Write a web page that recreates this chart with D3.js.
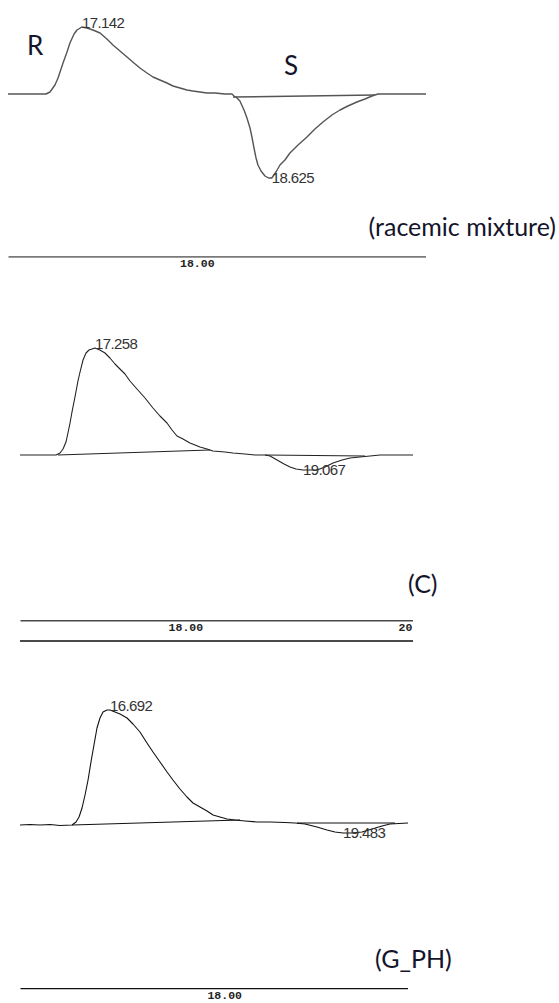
<!DOCTYPE html>
<html>
<head>
<meta charset="utf-8">
<script src="https://cdn.jsdelivr.net/npm/d3@7"></script>
<style>
  html, body { margin: 0; padding: 0; background: #fff; }
  svg { display: block; }
</style>
</head>
<body>
<script>
// Chiral HPLC traces: retention time (min) vs. detector signal (mV)

// racemic mixture: R enantiomer positive, S enantiomer negative (CD-type detector)
const traceRacemic = [
  [16.564, 0], [16.736, 0], [16.861, 0], [16.892, 3], [16.931, 13.5], [16.955, 24],
  [16.994, 46.5], [17.025, 63], [17.048, 76.5], [17.080, 90], [17.103, 96],
  [17.142, 100.5], [17.181, 99], [17.228, 96], [17.283, 91.5], [17.337, 82.5],
  [17.384, 73.5], [17.439, 64.5], [17.494, 55.5], [17.548, 46.5], [17.595, 39],
  [17.650, 31.5], [17.697, 25.5], [17.751, 21], [17.806, 16.5], [17.853, 12],
  [17.908, 9], [17.962, 6], [18.009, 4.5], [18.064, 3], [18.119, 1.5], [18.181, 1.5],
  [18.259, 0], [18.314, 0], [18.330, -3], [18.353, -6], [18.376, -10.5], [18.408, -24],
  [18.431, -36], [18.455, -51], [18.470, -64.5], [18.486, -81], [18.502, -96],
  [18.517, -106.5], [18.541, -115.5], [18.572, -123], [18.600, -126], [18.625, -126],
  [18.658, -117], [18.689, -106.5], [18.728, -99], [18.767, -88.5], [18.830, -76.5],
  [18.900, -64.5], [18.962, -52.5], [19.025, -42], [19.095, -31.5], [19.158, -24],
  [19.220, -18], [19.290, -12], [19.353, -7.5], [19.408, -3], [19.455, 0],
  [19.627, 0], [19.830, 0]
];
const peaksRacemic = [17.142, 18.625];
const baselinesRacemic = [[[18.322, -4.5], [19.431, -1.5]]];
const ticksRacemic = [18];

// sample C
const traceC = [
  [16.606, 0], [16.780, 0], [16.919, 0], [16.954, 3], [16.980, 9], [17.006, 19.5],
  [17.023, 33], [17.041, 48], [17.058, 64.5], [17.084, 87], [17.110, 111],
  [17.128, 124.5], [17.154, 142.5], [17.180, 153], [17.206, 157.5], [17.258, 160.5],
  [17.301, 157.5], [17.345, 153], [17.388, 145.5], [17.432, 136.5], [17.475, 129],
  [17.519, 121.5], [17.562, 111], [17.623, 99], [17.693, 85.5], [17.762, 70.5],
  [17.823, 58.5], [17.884, 48], [17.928, 37.5], [17.971, 28.5], [18.023, 24],
  [18.084, 18], [18.171, 12], [18.232, 9], [18.284, 6], [18.388, 4.5], [18.458, 3],
  [18.562, 1.5], [18.649, 0], [18.736, 0], [18.780, -1.5], [18.841, -7.5],
  [18.902, -13.5], [18.954, -18], [19.006, -21], [19.067, -22.5], [19.128, -22.5],
  [19.188, -22.5], [19.258, -18], [19.328, -12], [19.406, -7.5], [19.476, -4.5],
  [19.562, -3], [19.649, -1.5], [19.736, 0], [20.023, 0]
];
const peaksC = [17.258, 19.067];
const baselinesC = [[[16.936, 0], [18.258, 7.5]], [[18.736, 0], [19.606, -1.5]]];
const ticksC = [18, 20];

// sample G_PH
const traceGPH = [
  [15.614, 0], [15.734, 0.75], [15.854, 0], [15.973, 0.75], [16.093, -0.75],
  [16.237, 0], [16.285, 4.5], [16.321, 12], [16.357, 25.5], [16.393, 45],
  [16.429, 67.5], [16.464, 94.5], [16.500, 120], [16.536, 145.5], [16.572, 160.5],
  [16.608, 169.5], [16.656, 172.5], [16.692, 172.5], [16.752, 169.5], [16.812, 166.5],
  [16.896, 160.5], [16.967, 151.5], [17.051, 139.5], [17.135, 123], [17.207, 109.5],
  [17.291, 94.5], [17.375, 79.5], [17.446, 67.5], [17.530, 54], [17.614, 42],
  [17.686, 33], [17.770, 27], [17.854, 21], [17.926, 15], [18.009, 12], [18.093, 9],
  [18.189, 7.5], [18.309, 6], [18.452, 4.5], [18.608, 4.5], [18.788, 3.75],
  [18.908, 3], [19.027, 1.5], [19.171, -3], [19.291, -7.5], [19.387, -10.5],
  [19.483, -12], [19.590, -12], [19.710, -10.5], [19.830, -6], [19.950, -1.5],
  [20.045, 1.5], [20.261, 3]
];
const peaksGPH = [16.692, 19.483];
const baselinesGPH = [[[16.237, 0], [18.249, 7.5]], [[18.931, 3], [20.105, 3]]];
const ticksGPH = [18];

const captions = ["(racemic mixture)", "(C)", "(G_PH)"];

// ---- layout ----
const W = 559, H = 1003;
const svg = d3.select("body").append("svg").attr("width", W).attr("height", H);

const panels = [
  { trace: traceRacemic, peaks: peaksRacemic, baselines: baselinesRacemic, ticks: ticksRacemic,
    caption: captions[0], xr: [8, 426], y0: 94, axisY: [256], traceColor: "#555", traceW: 1.4,
    axisColor: "#7a7a7a", axisW: 2.6, captionPos: [556, 236, "end"] },
  { trace: traceC, peaks: peaksC, baselines: baselinesC, ticks: ticksC,
    caption: captions[1], xr: [20, 413], y0: 455, axisY: [620, 641], traceColor: "#222", traceW: 1.1,
    axisColor: "#4a4a4a", axisW: 2, captionPos: [408, 593, "start"] },
  { trace: traceGPH, peaks: peaksGPH, baselines: baselinesGPH, ticks: ticksGPH,
    caption: captions[2], xr: [20, 408], y0: 825, axisY: [988], traceColor: "#111", traceW: 1.1,
    axisColor: "#111", axisW: 1.6, captionPos: [375, 968, "start"] }
];

// x domains follow each run's recorded window; px/min differs between runs
const xDomains = [[16.564, 19.830], [16.606, 20.023], [15.614, 20.261]];

const fmtRT = d3.format(".3f");
const fmtTick = d3.format(".2f");

panels.forEach((p, i) => {
  const g = svg.append("g");
  const x = d3.scaleLinear().domain(xDomains[i]).range(p.xr);
  const y = d3.scaleLinear().domain([-150, 150]).range([p.y0 + 100, p.y0 - 100]);

  const line = d3.line().x(d => x(d[0])).y(d => y(d[1]));

  // integration baselines drawn under the signal
  g.selectAll("path.base").data(p.baselines).join("path")
    .attr("class", "base")
    .attr("d", line)
    .attr("fill", "none")
    .attr("stroke", p.traceColor)
    .attr("stroke-width", p.traceW);

  // detector trace
  g.append("path")
    .datum(p.trace)
    .attr("d", line)
    .attr("fill", "none")
    .attr("stroke", p.traceColor)
    .attr("stroke-width", p.traceW)
    .attr("stroke-linejoin", "round");

  // retention time labels at each apex
  const bis = d3.bisector(d => d[0]).center;
  p.peaks.forEach(rt => {
    const pt = p.trace[bis(p.trace, rt)];
    const up = pt[1] >= 0;
    g.append("text")
      .attr("x", x(rt))
      .attr("y", y(pt[1]) + (up ? 1 : 5))
      .attr("font-family", "Liberation Sans, Arial, sans-serif")
      .attr("font-size", 15)
      .attr("letter-spacing", -0.6)
      .attr("fill", "#333")
      .text(fmtRT(rt));
  });

  // time axis (labels clipped to the strip width)
  const clipId = "clip" + i;
  svg.append("clipPath").attr("id", clipId)
    .append("rect").attr("x", p.xr[0]).attr("y", 0).attr("width", p.xr[1] - p.xr[0]).attr("height", H);

  const axis = d3.axisBottom(x).tickValues(p.ticks).tickFormat(fmtTick).tickSize(0).tickPadding(0);
  const ag = g.append("g")
    .attr("transform", `translate(0,${p.axisY[0]})`)
    .attr("clip-path", `url(#${clipId})`)
    .call(axis);
  ag.select(".domain").attr("stroke", p.axisColor).attr("stroke-width", p.axisW);
  ag.selectAll(".tick text")
    .attr("font-family", "Liberation Mono, Courier New, monospace")
    .attr("font-weight", "bold")
    .attr("font-size", 11.5)
    .attr("fill", "#222")
    .attr("dx", 5)
    .attr("dy", 0)
    .attr("y", 11)
    .attr("text-anchor", "middle");

  // lower frame line of the time strip
  p.axisY.slice(1).forEach(yy => {
    g.append("line")
      .attr("x1", x.range()[0]).attr("x2", x.range()[1])
      .attr("y1", yy).attr("y2", yy)
      .attr("stroke", p.axisColor).attr("stroke-width", p.axisW);
  });

  g.append("text")
    .attr("x", p.captionPos[0]).attr("y", p.captionPos[1])
    .attr("text-anchor", p.captionPos[2])
    .attr("font-family", "Lato, Open Sans, sans-serif")
    .attr("font-size", 25)
    .attr("fill", "#14142a")
    .text(p.caption);
});

// enantiomer markers on the racemic run
const enantiomerLabels = ["R", "S"];
const enantiomerPos = [[27, 55], [284, 75]];
svg.selectAll("text.enant").data(enantiomerLabels).join("text")
  .attr("class", "enant")
  .attr("x", (d, i) => enantiomerPos[i][0])
  .attr("y", (d, i) => enantiomerPos[i][1])
  .attr("font-family", "Lato, Open Sans, sans-serif")
  .attr("font-size", 26)
  .attr("fill", "#14142a")
  .text(d => d);
</script>
</body>
</html>
